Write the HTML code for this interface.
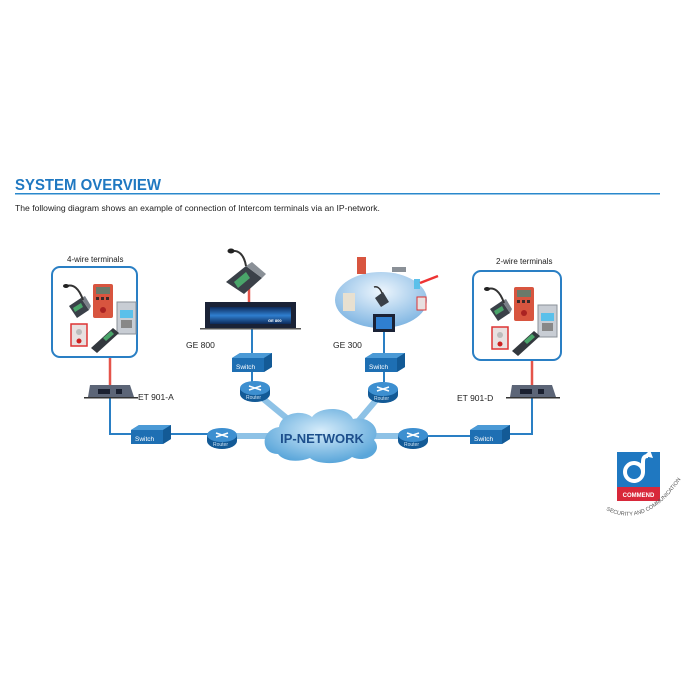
<!DOCTYPE html>
<html><head><meta charset="utf-8"><style>
html,body{margin:0;padding:0;background:#fff}
svg{display:block}
text{font-family:"Liberation Sans",sans-serif}
</style></head><body>
<svg width="700" height="700" viewBox="0 0 700 700" xmlns="http://www.w3.org/2000/svg">
<defs>
<radialGradient id="cl" cx="50%" cy="40%" r="60%"><stop offset="0" stop-color="#d6ecfa"/><stop offset="1" stop-color="#5aa6da"/></radialGradient>
<radialGradient id="gl" cx="50%" cy="35%" r="65%"><stop offset="0" stop-color="#eef6fd"/><stop offset="1" stop-color="#7fb5e2"/></radialGradient>
<linearGradient id="sc" x1="0" y1="0" x2="0" y2="1"><stop offset="0" stop-color="#0d2a5a"/><stop offset="0.5" stop-color="#2f7fd0"/><stop offset="1" stop-color="#0d2a5a"/></linearGradient>
<g id="sw"><path d="M0 5 L8 0 L40 0 L40 14 L32 19 L0 19 Z" fill="#1e6fb3"/><path d="M0 5 L8 0 L40 0 L32 5 Z" fill="#4b9ad6"/><path d="M32 5 L40 0 L40 14 L32 19Z" fill="#135a96"/><text x="4" y="16" font-size="6.5" fill="#fff">Switch</text></g>
<g id="rt"><ellipse cx="0" cy="4" rx="15" ry="8" fill="#135a96"/><rect x="-15" y="-2" width="30" height="6" fill="#135a96"/><ellipse cx="0" cy="-2" rx="15" ry="7" fill="#3d8fd0"/><path d="M-6 -4 L6 0 M6 -4 L-6 0" stroke="#fff" stroke-width="1.5"/><text x="-9" y="9" font-size="5" fill="#cfe4f5">Router</text></g>
<g id="et"><path d="M2 0 L42 0 L46 12 L0 12 Z" fill="#5c6577"/><rect x="10" y="4" width="12" height="5" fill="#1a2030"/><rect x="28" y="4" width="6" height="5" fill="#1a2030"/><rect x="-4" y="12" width="54" height="1.5" fill="#333"/></g>
<g id="terms">
<path d="M14 26 L26 18 L34 30 L22 38 Z" fill="#3a4048"/><path d="M18 28 L26 23 L28 27 L20 32Z" fill="#4aa56a"/><path d="M26 18 L34 30 L36 26 L30 16Z" fill="#7a8088"/>
<path d="M28 20 C24 8 18 4 12 6" stroke="#333" stroke-width="2" fill="none"/><ellipse cx="11" cy="6" rx="3" ry="2" fill="#222"/>
<rect x="38" y="4" width="20" height="34" rx="2" fill="#d8553f"/><rect x="41" y="7" width="14" height="7" fill="#6a7a6a"/><circle cx="48" cy="30" r="3" fill="#a22"/><g fill="#3a2a2a"><rect x="41" y="17" width="3" height="3"/><rect x="46" y="17" width="3" height="3"/><rect x="51" y="17" width="3" height="3"/></g>
<rect x="62" y="22" width="19" height="32" fill="#c8cdd4" stroke="#8a9097"/><rect x="65" y="30" width="13" height="8" fill="#5bc0ea"/><rect x="66" y="40" width="11" height="8" fill="#888"/>
<rect x="16" y="44" width="16" height="22" fill="#e8e0e0" stroke="#d33" stroke-width="1.5"/><circle cx="24" cy="61" r="2.5" fill="#c22"/><circle cx="24" cy="52" r="3" fill="#bbb"/>
<path d="M36 68 L58 48 L64 53 L42 73 Z" fill="#33383e"/><path d="M48 58 L56 51 L59 54 L51 61Z" fill="#4aa56a"/>
</g>
</defs>

<text x="15" y="190" font-size="15.5" font-weight="bold" fill="#1f78c1" textLength="146" lengthAdjust="spacingAndGlyphs">SYSTEM OVERVIEW</text>
<rect x="15" y="193" width="645" height="1.5" fill="#2a88cc"/>
<text x="15" y="211" font-size="8.6" fill="#222">The following diagram shows an example of connection of Intercom terminals via an IP-network.</text>

<g stroke="#8ec2e6" stroke-width="6" fill="none">
<line x1="255" y1="392" x2="295" y2="425"/><line x1="383" y1="392" x2="355" y2="425"/>
<line x1="222" y1="436" x2="275" y2="436"/><line x1="370" y1="436" x2="413" y2="436"/>
</g>
<g stroke="#2a7fc4" stroke-width="2" fill="none">
<polyline points="110,398 110,434 132,434"/><line x1="170" y1="434" x2="208" y2="434"/>
<line x1="252" y1="328" x2="252" y2="355"/><line x1="252" y1="372" x2="252" y2="382"/>
<line x1="384" y1="330" x2="384" y2="355"/><line x1="384" y1="372" x2="384" y2="382"/>
<line x1="428" y1="436" x2="472" y2="436"/><polyline points="508,434 532,434 532,398"/>
</g>
<g stroke="#e5544a" stroke-width="2.5"><line x1="110" y1="358" x2="110" y2="385"/><line x1="532" y1="361" x2="532" y2="385"/><line x1="249" y1="285" x2="249" y2="303"/></g>

<rect x="52" y="267" width="85" height="90" rx="8" fill="#fff" stroke="#2a7fc4" stroke-width="2"/>
<text x="67" y="262" font-size="8" fill="#222">4-wire terminals</text>
<use href="#terms" x="55" y="280"/>
<rect x="473" y="271" width="88" height="89" rx="8" fill="#fff" stroke="#2a7fc4" stroke-width="2"/>
<text x="496" y="264" font-size="8" fill="#222">2-wire terminals</text>
<use href="#terms" x="476" y="283"/>

<use href="#et" x="88" y="385"/><text x="138" y="400" font-size="8.5" fill="#222">ET 901-A</text>
<use href="#et" x="510" y="385"/><text x="457" y="401" font-size="8.5" fill="#222">ET 901-D</text>

<path d="M226 282 L246 266 L262 278 L244 294 Z" fill="#3a4048"/><path d="M246 266 L262 278 L266 274 L252 262Z" fill="#8a9097"/><path d="M234 282 L246 272 L250 278 L238 288Z" fill="#4aa56a"/>
<path d="M246 266 C244 254 238 250 232 251" stroke="#333" stroke-width="2" fill="none"/><ellipse cx="231" cy="251" rx="3.5" ry="2.5" fill="#222"/>
<rect x="205" y="302" width="91" height="26" fill="#1a2236"/><rect x="210" y="307" width="81" height="17" fill="url(#sc)"/>
<text x="268" y="322" font-size="4" fill="#fff" font-weight="bold">GE 800</text><rect x="200" y="328" width="101" height="1.5" fill="#555"/>
<text x="186" y="348" font-size="8.5" fill="#222">GE 800</text>

<ellipse cx="381" cy="300" rx="46" ry="28" fill="url(#gl)"/>
<rect x="357" y="257" width="9" height="17" fill="#d8553f"/><rect x="392" y="267" width="14" height="5" fill="#8a9097"/>
<rect x="414" y="279" width="6" height="10" fill="#5bc0ea"/><path d="M420 283 L438 276" stroke="#e33" stroke-width="2.5"/>
<rect x="343" y="293" width="12" height="18" fill="#e8e0d0"/><rect x="417" y="297" width="9" height="13" fill="#e8e0e0" stroke="#d33"/>
<path d="M375 298 L383 292 L389 302 L381 307 Z" fill="#3a4048"/><path d="M382 293 C380 288 377 286 374 287" stroke="#333" stroke-width="1.5" fill="none"/>
<rect x="373" y="314" width="22" height="18" fill="#1a2236"/><rect x="376" y="317" width="16" height="12" fill="#2f7fd0"/>
<text x="333" y="348" font-size="8.5" fill="#222">GE 300</text>

<use href="#sw" x="232" y="353"/><use href="#rt" x="255" y="390"/>
<use href="#sw" x="365" y="353"/><use href="#rt" x="383" y="391"/>
<use href="#sw" x="131" y="425"/><use href="#rt" x="222" y="437"/>
<use href="#sw" x="470" y="425"/><use href="#rt" x="413" y="437"/>

<path d="M278 454 C260 454 260 430 279 427 C281 413 302 409 312 417 C320 406 347 406 353 419 C370 415 382 430 374 440 C384 451 367 464 352 457 C342 465 318 465 310 458 C297 463 283 461 278 454 Z" fill="url(#cl)"/>
<text x="322" y="443" font-size="13" font-weight="bold" fill="#1d4f8c" text-anchor="middle">IP-NETWORK</text>

<rect x="617" y="452" width="43" height="49" fill="#1f78c1"/><rect x="617" y="487" width="43" height="14" fill="#d8283a"/>
<text x="638.5" y="497" font-size="6" font-weight="bold" fill="#fff" text-anchor="middle">COMMEND</text>
<circle cx="634" cy="472" r="9" fill="none" stroke="#fff" stroke-width="4"/>
<path d="M643 472 L643 462 C643 457 645 456 648 456" stroke="#fff" stroke-width="4" fill="none"/>
<path d="M644 456 L650 450 L653 458 Z" fill="#fff"/>
<path id="arc" d="M606 510 Q650 532 688 468" fill="none"/>
<text font-size="5.5" fill="#555"><textPath href="#arc">SECURITY AND COMMUNICATION</textPath></text>
</svg>
</body></html>
